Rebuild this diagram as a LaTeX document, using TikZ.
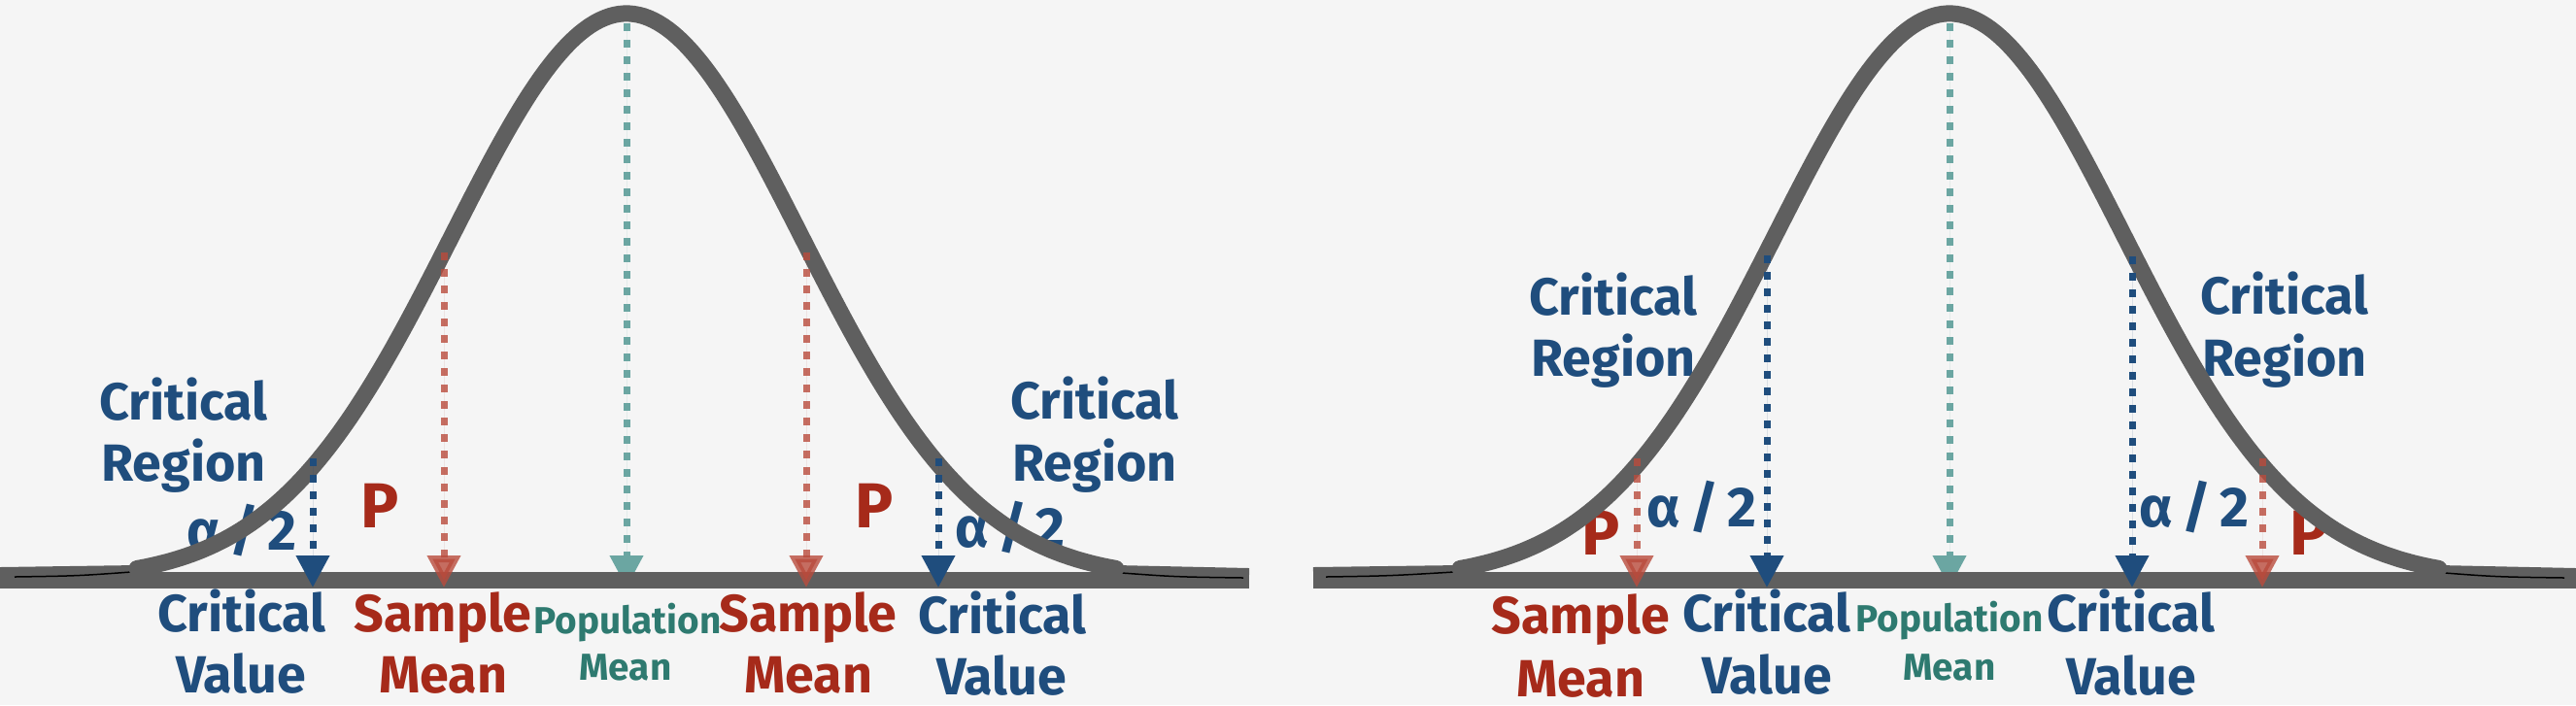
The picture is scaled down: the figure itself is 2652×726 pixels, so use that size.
\documentclass[tikz,border=0pt]{standalone}
\usepackage{fontspec}
\setmainfont{Fira Sans}
\usetikzlibrary{arrows.meta}
\definecolor{bgc}{RGB}{245,245,245}
\definecolor{curvegray}{RGB}{95,95,95}
\definecolor{cblue}{RGB}{31,77,125}
\definecolor{cred}{RGB}{166,42,26}
\definecolor{credline}{RGB}{185,75,60}
\definecolor{cteal}{RGB}{107,166,162}
\definecolor{ctealtxt}{RGB}{46,122,112}
\begin{document}
\begin{tikzpicture}[x=0.01cm,y=-0.01cm,
  curve/.style={draw=curvegray,line width=0.17cm,line cap=round},
  baseline/.style={draw=curvegray,line width=0.17cm},
  tailpiece/.style={draw=curvegray,line width=0.12cm},
  sliver/.style={draw=black,line width=0.015cm},
  dotline/.style={line width=0.07cm,dash pattern=on 0.08cm off 0.09cm,-{Triangle[width=0.33cm,length=0.33cm]}},
  dotblue/.style={dotline,draw=cblue,fill=cblue},
  dotred/.style={dotline,draw=credline,fill=credline,opacity=0.8},
  dotteal/.style={dotline,draw=cteal,fill=cteal},
  lbl/.style={anchor=base,inner sep=0pt,font=\bfseries\fontsize{15.3}{18}\selectfont},
  bluelbl/.style={lbl,text=cblue},
  redlbl/.style={lbl,text=cred},
  poplbl/.style={anchor=base,inner sep=0pt,text=ctealtxt,font=\bfseries\fontsize{11}{13}\selectfont},
  alphalbl/.style={anchor=base,inner sep=0pt,text=cblue,font=\bfseries\fontsize{16.5}{19}\selectfont},
  plbl/.style={anchor=base,inner sep=0pt,text=cred,font=\bfseries\fontsize{18.6}{21}\selectfont}
]
\fill[bgc] (0,0) rectangle (2652,726);
\useasboundingbox (0,0) rectangle (2652,726);

\def\alphatext{α\kern2.5pt/\kern2.5pt2}

% ---------- left panel labels ----------
\node[bluelbl] (crLa) at (189,432) {Critical};
\node[bluelbl] (crLb) at (189,495) {Region};
\node[alphalbl] (alL) at (249,566) {\alphatext};
\node[plbl] (pL) at (391,543) {P};
\node[bluelbl] (cvLa) at (249,650) {Critical};
\node[bluelbl] (cvLb) at (248,713) {Value};
\node[redlbl] (smLa) at (456,650) {Sample};
\node[redlbl] (smLb) at (456,713) {Mean};
\node[poplbl] (pmLa) at (646,652) {Population};
\node[poplbl] (pmLb) at (644,700) {Mean};
\node[redlbl] (smRa) at (832,650) {Sample};
\node[redlbl] (smRb) at (832,713) {Mean};
\node[bluelbl] (cvRa) at (1032,652) {Critical};
\node[bluelbl] (cvRb) at (1031,715) {Value};
\node[plbl] (pR) at (900,543) {P};
\node[alphalbl] (alR) at (1040,563) {\alphatext};
\node[bluelbl] (crRa) at (1127,431) {Critical};
\node[bluelbl] (crRb) at (1127,495) {Region};

% ---------- right panel labels ----------
\node[bluelbl] (crLa2) at (1661,324) {Critical};
\node[bluelbl] (crLb2) at (1661,387) {Region};
\node[plbl] (pL2) at (1648,571) {P};
\node[alphalbl] (alL2) at (1752,542) {\alphatext};
\node[redlbl] (smLa2) at (1627,652) {Sample};
\node[redlbl] (smLb2) at (1627,717) {Mean};
\node[bluelbl] (cvLa2) at (1819,650) {Critical};
\node[bluelbl] (cvLb2) at (1819,714) {Value};
\node[poplbl] (pma2) at (2007,650) {Population};
\node[poplbl] (pmb2) at (2007,700) {Mean};
\node[bluelbl] (cvRa2) at (2194,650) {Critical};
\node[bluelbl] (cvRb2) at (2194,715) {Value};
\node[alphalbl] (alR2) at (2259,542) {\alphatext};
\node[plbl] (pR2) at (2377,571) {P};
\node[bluelbl] (crRa2) at (2352,323) {Critical};
\node[bluelbl] (crRb2) at (2352,387) {Region};

% ---------- coordinates ----------
\coordinate (pmLt) at (645,24);   \coordinate (pmLb) at (645,605);
\coordinate (pm2t) at (2007,24);  \coordinate (pm2b) at (2007,605);
\coordinate (cvLt) at (322,472);  \coordinate (cvLbt) at (322,605);
\coordinate (smLt) at (457,260);  \coordinate (smLbt) at (457,605);
\coordinate (smRt) at (830,260);  \coordinate (smRbt) at (830,605);
\coordinate (cvRt) at (966,472);  \coordinate (cvRbt) at (966,605);
\coordinate (smLt2) at (1685,472); \coordinate (smLbt2) at (1685,605);
\coordinate (cvLt2) at (1819,263); \coordinate (cvLbt2) at (1819,605);
\coordinate (cvRt2) at (2195,264); \coordinate (cvRbt2) at (2195,605);
\coordinate (smRt2) at (2329,472); \coordinate (smRbt2) at (2329,605);

% teal arrows (behind the axis)
\draw[dotteal] (pmLt) -- (pmLb);
\draw[dotteal] (pm2t) -- (pm2b);

% ---------- axes and curves ----------
\draw[baseline] (0,597) -- (1286,597);
\draw[baseline] (1352,597) -- (2652,597);
\draw[tailpiece] (0,590) -- (141,588);
\draw[tailpiece] (1149,588) -- (1286,591);
\draw[tailpiece] (1352,590) -- (1503,588);
\draw[tailpiece] (2511,588) -- (2652,591);
\draw[sliver] (15,594) .. controls (80,593) .. (135,589);
\draw[sliver] (1155,590) .. controls (1210,594) .. (1280,595);
\draw[sliver] (1365,594) .. controls (1430,593) .. (1497,589);
\draw[sliver] (2517,590) .. controls (2570,594) .. (2640,595);
\draw[curve] plot[domain=-2.8:2.8,samples=200] ({645+180*\x},{597-583*exp(-0.5*\x*\x)});
\draw[curve] plot[domain=-2.8:2.8,samples=200] ({2007+180*\x},{597-583*exp(-0.5*\x*\x)});

% ---------- arrows ----------
\draw[dotblue] (cvLt) -- (cvLbt);
\draw[dotred] (smLt) -- (smLbt);
\draw[dotred] (smRt) -- (smRbt);
\draw[dotblue] (cvRt) -- (cvRbt);
\draw[dotred] (smLt2) -- (smLbt2);
\draw[dotblue] (cvLt2) -- (cvLbt2);
\draw[dotblue] (cvRt2) -- (cvRbt2);
\draw[dotred] (smRt2) -- (smRbt2);
\end{tikzpicture}
\end{document}
